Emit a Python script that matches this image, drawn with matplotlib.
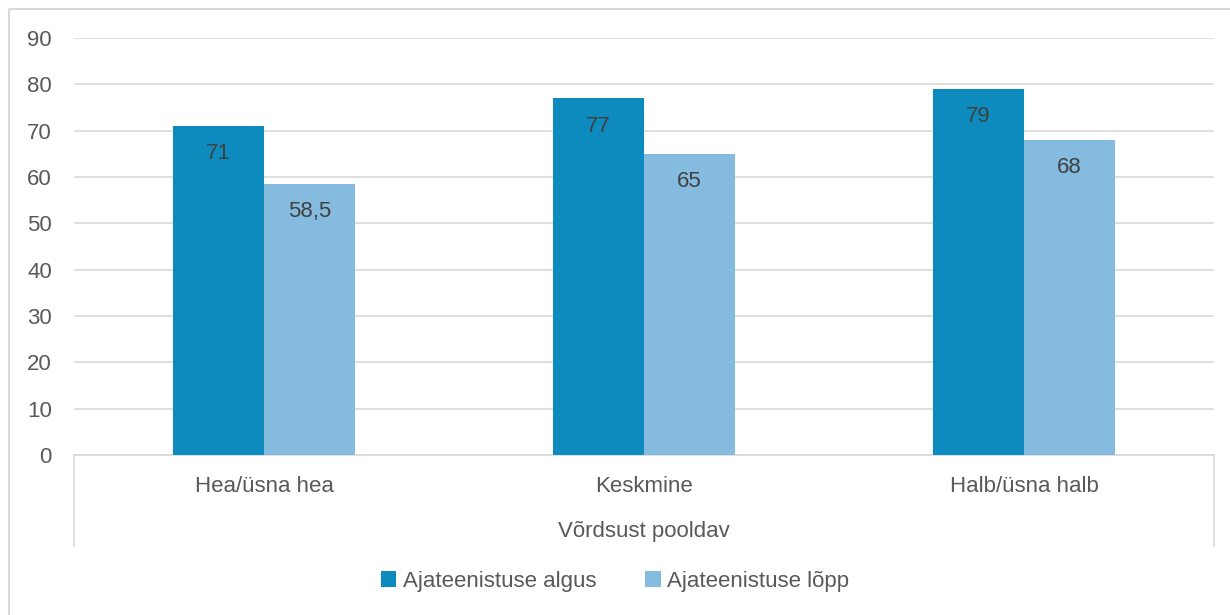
import matplotlib
matplotlib.use("Agg")
import matplotlib.pyplot as plt
from matplotlib.lines import Line2D
import numpy as np

categories = ["Hea/üsna hea", "Keskmine", "Halb/üsna halb"]
group_label = "Võrdsust pooldav"
series_names = ["Ajateenistuse algus", "Ajateenistuse lõpp"]
algus = [71, 77, 79]
lopp = [58.5, 65, 68]
yticks = [0, 10, 20, 30, 40, 50, 60, 70, 80, 90]

colors = ["#0E8BBE", "#86BBE0"]
plt.rcParams['font.family'] = ['Liberation Sans', 'DejaVu Sans']
FS = 16

W, H = 1230, 615
fig = plt.figure(figsize=(W / 100, H / 100), dpi=100)
ax = fig.add_axes([74 / W, 1 - 455 / H, (1214 - 74) / W, (455 - 38) / H])

x = np.arange(len(categories))
bw = 0.24
vals = [algus, lopp]
for i, (name, v) in enumerate(zip(series_names, vals)):
    pos = x + (i - 0.5) * bw
    bars = ax.bar(pos, v, width=bw, color=colors[i], label=name, zorder=3)
    for b, val in zip(bars, v):
        txt = f"{val:g}".replace(".", ",")
        ax.annotate(txt, (b.get_x() + b.get_width() / 2, val), xytext=(0, -20),
                    textcoords="offset points", ha="center", va="center",
                    fontsize=FS, color="#404040", zorder=4)

ax.set_xlim(-0.5, len(categories) - 0.5)
ax.set_ylim(0, 90)
ax.set_yticks(yticks)
ax.yaxis.grid(True, color="#D9D9D9", linewidth=1.2, zorder=0)
ax.set_axisbelow(True)
for s in ["left", "right", "top"]:
    ax.spines[s].set_visible(False)
ax.spines["bottom"].set_color("#D9D9D9")
ax.spines["bottom"].set_linewidth(1.2)
ax.tick_params(axis="y", length=0, pad=16, labelsize=FS, labelcolor="#595959")
ax.set_yticklabels([str(t) for t in yticks], ha="right")
ax.set_xticks(x)
ax.set_xticklabels(categories)
ax.tick_params(axis="x", length=0, pad=15, labelsize=FS, labelcolor="#595959")

# group label and separator lines
fig.text((74 + 1214) / 2 / W, 1 - 531 / H, group_label, ha="center", va="center",
         fontsize=FS, color="#595959")
for xp in [74, 1214]:
    fig.add_artist(Line2D([xp / W, xp / W], [1 - 455 / H, 1 - 546 / H],
                          color="#D9D9D9", linewidth=1.2))

# figure border (top and left edges)
fig.add_artist(Line2D([8.5 / W, 8.5 / W, 1.0], [0.0, 1 - 9 / H, 1 - 9 / H],
                      color="#D9D9D9", linewidth=1.5))

fig.legend(loc="center", bbox_to_anchor=(0.5, 1 - 581 / H), ncol=2, frameon=False,
           fontsize=FS, labelcolor="#595959", handlelength=0.7, handleheight=0.7,
           handletextpad=0.3, columnspacing=2.2)

fig.savefig("out.png", dpi=100, facecolor="white")
